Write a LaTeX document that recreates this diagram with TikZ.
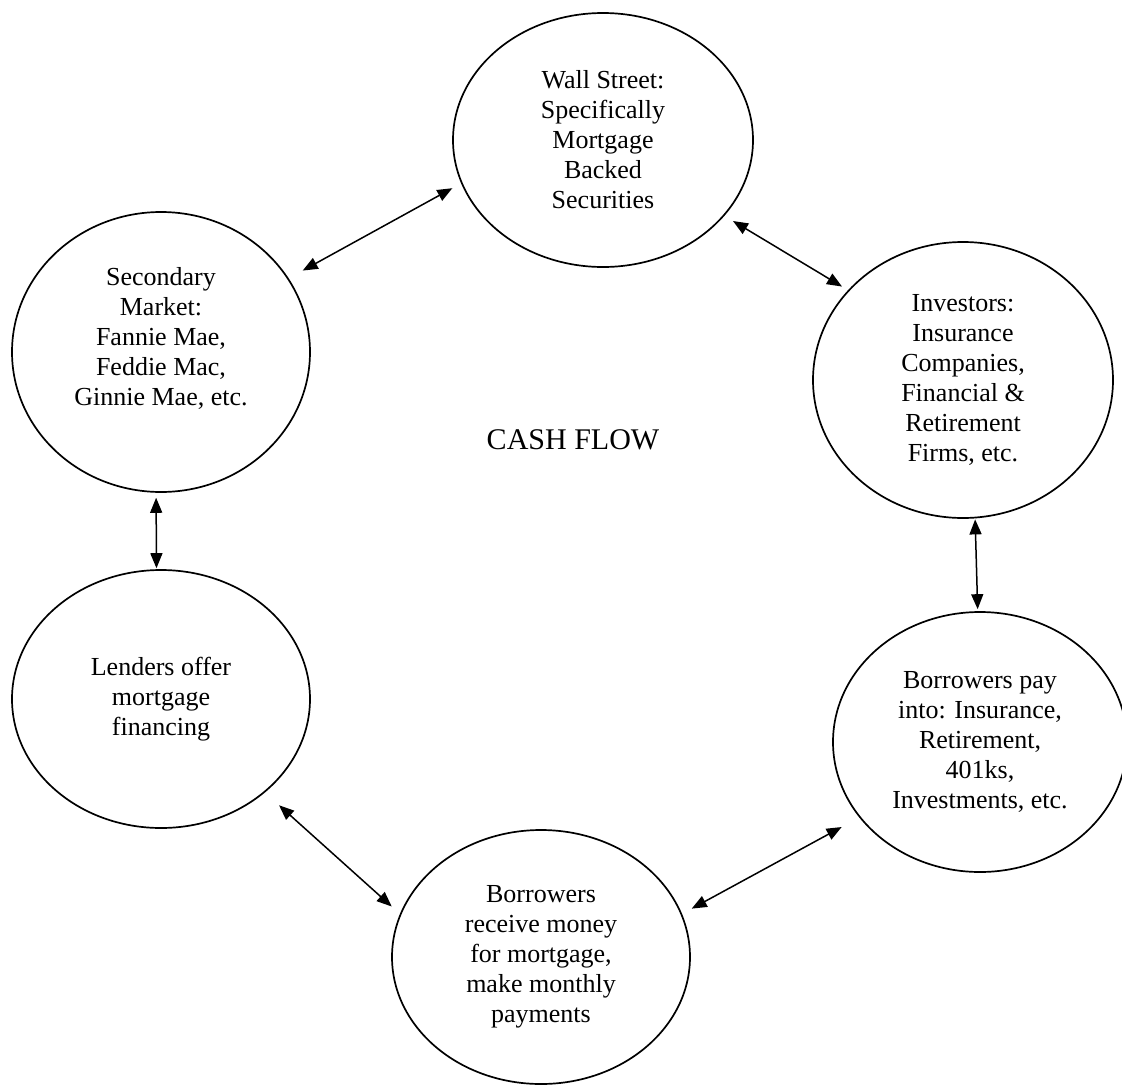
\documentclass[tikz,border=0pt]{standalone}
\usepackage{fontspec}
\setmainfont{Liberation Serif}
\usetikzlibrary{arrows.meta,shapes.geometric}

\begin{document}
\begin{tikzpicture}[x=1pt,y=-1pt,
  bubble/.style={draw,ellipse,line width=1.7pt,inner sep=0pt,align=center,
    font=\fontsize{26}{30}\selectfont}]
\useasboundingbox (0,0) rectangle (1122,1087);
\node[bubble,minimum width=300pt,minimum height=254pt] (WS) at (603,140) {Wall Street:\\ Specifically\\ Mortgage\\ Backed\\ Securities};
\node[bubble,minimum width=298pt,minimum height=280pt,text depth=31pt] (SM) at (161,352) {Secondary\\ Market:\\ Fannie Mae,\\ Feddie Mac,\\ Ginnie Mae, etc.};
\node[bubble,minimum width=300pt,minimum height=276pt] (IN) at (963,380) {Investors:\\ Insurance\\ Companies,\\ Financial \&\\ Retirement\\ Firms, etc.};
\node[bubble,minimum width=298pt,minimum height=258pt] (LE) at (161,699) {Lenders offer\\ mortgage\\ financing};
\node[bubble,minimum width=294pt,minimum height=260pt] (BP) at (980,742) {Borrowers pay\\ into: Insurance,\\ Retirement,\\ 401ks,\\ Investments, etc.};
\node[bubble,minimum width=298pt,minimum height=254pt] (BR) at (541,957) {Borrowers\\ receive money\\ for mortgage,\\ make monthly\\ payments};
\node[font=\fontsize{30}{36}\selectfont] (CF) at (573,440) {CASH FLOW};
\path[<->,line width=1.5pt,>={Triangle[length=15pt,width=12pt]}]
(SM.30) edge[shorten <=16pt,shorten >=10pt] (WS.197)
(WS.-32) edge[shorten <=10pt,shorten >=7pt] (IN.142)
(SM.-92) edge[shorten <=5pt,shorten >=1pt] (LE.92)
(IN.-85) edge[shorten <=1pt,shorten >=2pt] (BP.91)
(LE.-42) edge[shorten <=19pt,shorten >=11pt] (BR.163)
(BR.17) edge[shorten <=11pt,shorten >=20pt] (BP.212);
\end{tikzpicture}
\end{document}
